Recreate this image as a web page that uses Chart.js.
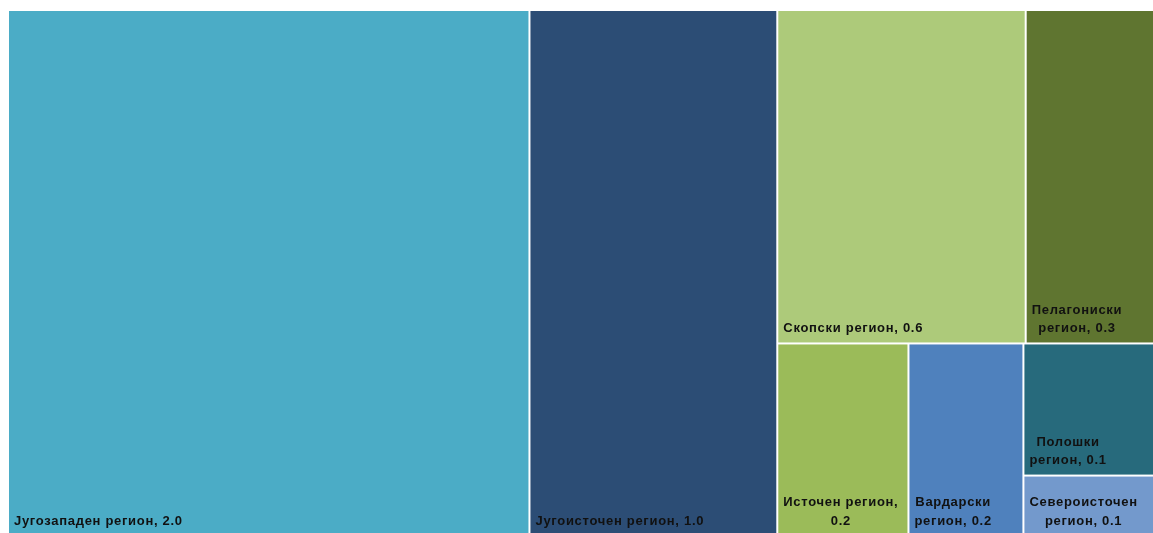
<!DOCTYPE html>
<html lang="mk">
<head>
<meta charset="UTF-8">
<title>Региони</title>
<script src="https://cdn.jsdelivr.net/npm/chart.js@4.4.1/dist/chart.umd.min.js"></script>
<style>
    html, body { margin: 0; padding: 0; background: #ffffff; overflow: hidden; }
    /* slightly larger than the window so the outer cells run off the edge */
    #wrap { width: 1156px; height: 536px; }
</style>
</head>
<body>
<div id="wrap"><canvas id="chart"></canvas></div>
<script>
    const regions = ["Југозападен регион", "Југоисточен регион", "Скопски регион", "Пелагониски регион",
                     "Источен регион", "Вардарски регион", "Полошки регион", "Североисточен регион"];
    const values = [2.02, 0.96, 0.61, 0.32, 0.186, 0.163, 0.129, 0.059];
    const colors = ["#4BACC6", "#2C4D75", "#ADCA7A", "#5F7530", "#9BBB59", "#4F81BD", "#276A7C", "#7399CC"];
    // grouping of the cells: 'r' = side by side, 'c' = stacked
    const groups = ['r', 0, 1, ['c', ['r', 2, 3], ['r', 4, 5, ['c', 6, 7]]]];

    function total(node) {
        if (typeof node === 'number') return values[node];
        return node.slice(1).reduce((s, n) => s + total(n), 0);
    }

    function layout(node, x0, y0, x1, y1, out) {
        if (typeof node === 'number') {
            out.push({ i: node, x0, y0, x1, y1 });
            return out;
        }
        let sum = total(node);
        let pos = node[0] === 'r' ? x0 : y0;
        node.slice(1).forEach(k => {
            let f = total(k) / sum;
            if (node[0] === 'r') {
                let w = (x1 - x0) * f;
                layout(k, pos, y0, pos + w, y1, out);
                pos += w;
            } else {
                let h = (y1 - y0) * f;
                layout(k, x0, pos, x1, pos + h, out);
                pos += h;
            }
        });
        return out;
    }

    const cells = layout(groups, 0, 0, 1, 1, []);

    function wrap(ctx, text, maxW) {
        let lines = [], cur = '';
        text.split(' ').forEach(w => {
            let t = cur ? cur + ' ' + w : w;
            if (!cur || ctx.measureText(t).width <= maxW) cur = t;
            else { lines.push(cur); cur = w; }
        });
        lines.push(cur);
        return lines;
    }

    const treemap = {
        id: 'treemap',
        afterDatasetsDraw(chart) {
            let { ctx, scales: { x, y } } = chart;
            ctx.save();
            cells.forEach(c => {
                let left = x.getPixelForValue(c.x0), right = x.getPixelForValue(c.x1);
                let top = y.getPixelForValue(c.y0), bottom = y.getPixelForValue(c.y1);
                ctx.fillStyle = colors[c.i];
                ctx.fillRect(left + 1, top + 1, right - left - 2, bottom - top - 2);

                ctx.font = 'bold 13px "Liberation Sans"';
                ctx.letterSpacing = '0.7px';
                ctx.fillStyle = '#111111';
                ctx.textAlign = 'center';
                ctx.textBaseline = 'middle';
                let lines = wrap(ctx, regions[c.i] + ', ' + values[c.i].toFixed(1), right - left - 14);
                let blockW = Math.max(...lines.map(l => ctx.measureText(l).width));
                let cx = left + 6 + blockW / 2;
                lines.forEach((l, k) => {
                    ctx.fillText(l, cx, bottom - 15 - (lines.length - 1 - k) * 18.5);
                });
            });
            ctx.restore();
        }
    };

    let chart = new Chart(document.getElementById("chart").getContext("2d"), {
        type: "scatter",
        data: { datasets: [{ data: [] }] },
        options: {
            responsive: true,
            maintainAspectRatio: false,
            animation: false,
            layout: { padding: { left: 8, top: 10, right: 0, bottom: 0 } },
            scales: {
                x: { type: 'linear', min: 0, max: 1, display: false },
                y: { type: 'linear', min: 0, max: 1, reverse: true, display: false }
            },
            plugins: { legend: { display: false }, tooltip: { enabled: false } }
        },
        plugins: [treemap]
    });
</script>
</body>
</html>
